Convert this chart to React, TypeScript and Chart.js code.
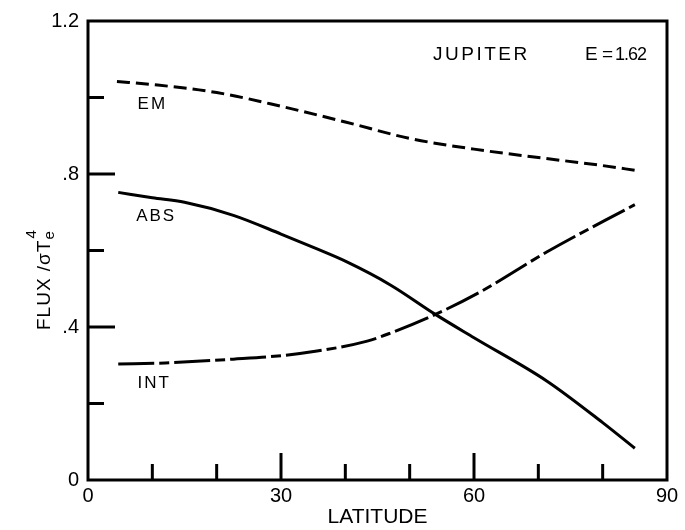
import { useEffect, useRef } from 'react';
import { Chart, registerables } from 'chart.js';

Chart.register(...registerables);

// ---- data ----
const latEM = [4.5, 10, 20, 30, 40, 50, 60, 70, 80, 85.3];
const fluxEM = [1.042, 1.034, 1.013, 0.977, 0.936, 0.893, 0.865, 0.843, 0.822, 0.809];

const latABS = [4.7, 10, 15, 22.6, 30, 35.6, 40, 47, 54, 60, 71.3, 80, 85];
const fluxABS = [0.752, 0.738, 0.726, 0.692, 0.643, 0.604, 0.572, 0.51, 0.433, 0.372, 0.259, 0.15, 0.083];

const latINT = [4.7, 12, 22.6, 30, 35.6, 43.4, 47, 54, 61, 71.3, 85];
const fluxINT = [0.303, 0.306, 0.316, 0.325, 0.337, 0.363, 0.384, 0.433, 0.492, 0.596, 0.72];

const xTickLabels = [0, 30, 60, 90];
const yTickLabels = [0, 0.4, 0.8, 1.2];

const curveLabels = [
  { text: 'EM', lat: 10, flux: 0.982 },
  { text: 'ABS', lat: 10.6, flux: 0.69 },
  { text: 'INT', lat: 10.3, flux: 0.253 },
];

const FONT = '"Liberation Sans", Arial, sans-serif';

const near = (v: number, list: number[]) => list.some((t) => Math.abs(t - v) < 1e-6);

const pts = (xs: number[], ys: number[]) => xs.map((x, i) => ({ x, y: ys[i] }));

const framePlugin = {
  id: 'frame',
  afterDraw(chart: any) {
    const { ctx, chartArea: a, scales } = chart;
    const x = scales.x;
    const y = scales.y;
    ctx.save();
    ctx.strokeStyle = '#000';
    ctx.lineWidth = 3;
    ctx.lineCap = 'square';
    ctx.strokeRect(a.left, a.top, a.right - a.left, a.bottom - a.top);

    ctx.lineCap = 'butt';
    ctx.lineWidth = 3;
    for (const t of x.ticks) {
      if (t.value <= 0 || t.value >= 90) continue;
      const px = x.getPixelForValue(t.value);
      const len = near(t.value, xTickLabels) ? 27 : 16;
      ctx.beginPath();
      ctx.moveTo(px, a.bottom);
      ctx.lineTo(px, a.bottom - len);
      ctx.stroke();
    }
    for (const t of y.ticks) {
      if (t.value <= 0 || t.value >= 1.2 - 1e-6) continue;
      const py = y.getPixelForValue(t.value);
      const len = near(t.value, yTickLabels) ? 27 : 16;
      ctx.beginPath();
      ctx.moveTo(a.left, py);
      ctx.lineTo(a.left + len, py);
      ctx.stroke();
    }

    ctx.fillStyle = '#000';
    ctx.textBaseline = 'middle';
    ctx.textAlign = 'center';
    (ctx as any).letterSpacing = '2px';
    ctx.font = `17px ${FONT}`;
    for (const l of curveLabels) {
      ctx.fillText(l.text, x.getPixelForValue(l.lat), y.getPixelForValue(l.flux));
    }

    // title inside plot
    ctx.font = `19px ${FONT}`;
    ctx.textAlign = 'left';
    (ctx as any).letterSpacing = '2.5px';
    ctx.fillText('JUPITER', 433, 55);
    (ctx as any).letterSpacing = '0px';
    ctx.fillText('E', 585, 55);
    ctx.fillText('=', 602, 55);
    (ctx as any).letterSpacing = '-1px';
    ctx.font = `18px ${FONT}`;
    ctx.fillText('1.62', 615, 55);

    // y axis title (rotated)
    ctx.translate(50, 330);
    ctx.rotate(-Math.PI / 2);
    ctx.textAlign = 'left';
    ctx.textBaseline = 'alphabetic';
    (ctx as any).letterSpacing = '1px';
    ctx.font = `19px ${FONT}`;
    const main = 'FLUX /σT';
    ctx.fillText(main, 0, 0);
    const w = ctx.measureText(main).width;
    ctx.font = `15px ${FONT}`;
    ctx.fillText('e', w, 4);
    ctx.fillText('4', w + 1, -14);
    ctx.restore();
  },
};

export default function App() {
  const ref = useRef<HTMLCanvasElement | null>(null);
  useEffect(() => {
    if (!ref.current) return;
    const chart = new Chart(ref.current, {
      type: 'line',
      data: {
        datasets: [
          {
            label: 'EM',
            data: pts(latEM, fluxEM),
            borderColor: '#000',
            borderWidth: 3,
            borderDash: [13, 6],
            pointRadius: 0,
            cubicInterpolationMode: 'monotone',
            fill: false,
          },
          {
            label: 'ABS',
            data: pts(latABS, fluxABS),
            borderColor: '#000',
            borderWidth: 3,
            pointRadius: 0,
            cubicInterpolationMode: 'monotone',
            fill: false,
          },
          {
            label: 'INT',
            data: pts(latINT, fluxINT),
            borderColor: '#000',
            borderWidth: 3,
            borderDash: [36, 5, 10, 5],
            pointRadius: 0,
            cubicInterpolationMode: 'monotone',
            fill: false,
          },
        ],
      },
      options: {
        animation: false,
        responsive: false,
        events: [],
        layout: { padding: { top: 17, right: 18, left: 0, bottom: 0 } },
        plugins: {
          legend: { display: false },
          tooltip: { enabled: false },
          title: { display: false },
        },
        scales: {
          x: {
            type: 'linear',
            min: 0,
            max: 90,
            grid: { display: false, tickLength: 0 },
            border: { display: false },
            ticks: {
              stepSize: 10,
              autoSkip: false,
              maxRotation: 0,
              padding: 4,
              color: '#000',
              font: { family: FONT, size: 20 },
              callback: (v: any) => (near(Number(v), xTickLabels) ? String(v) : ''),
            },
            title: {
              display: true,
              text: 'LATITUDE',
              color: '#000',
              font: { family: FONT, size: 21 },
              padding: { top: 0, bottom: 0 },
            },
            afterFit: (s: any) => {
              s.height = 50;
            },
          },
          y: {
            type: 'linear',
            min: 0,
            max: 1.2,
            grid: { display: false, tickLength: 0 },
            border: { display: false },
            ticks: {
              stepSize: 0.2,
              autoSkip: false,
              padding: 9,
              color: '#000',
              font: { family: FONT, size: 20 },
              callback: (v: any) => {
                const n = Number(v);
                if (!near(n, yTickLabels)) return '';
                if (Math.abs(n) < 1e-6) return '0';
                const s = n.toFixed(1);
                return s.startsWith('0') ? s.slice(1) : s;
              },
            },
            afterFit: (s: any) => {
              s.width = 88;
            },
          },
        },
      } as any,
      plugins: [framePlugin],
    });
    return () => chart.destroy();
  }, []);
  return (
    <div style={{ position: 'fixed', left: 0, top: 0, width: 685, height: 530, background: '#fff' }}>
      <canvas ref={ref} width={685} height={530} style={{ display: 'block' }} />
    </div>
  );
}
